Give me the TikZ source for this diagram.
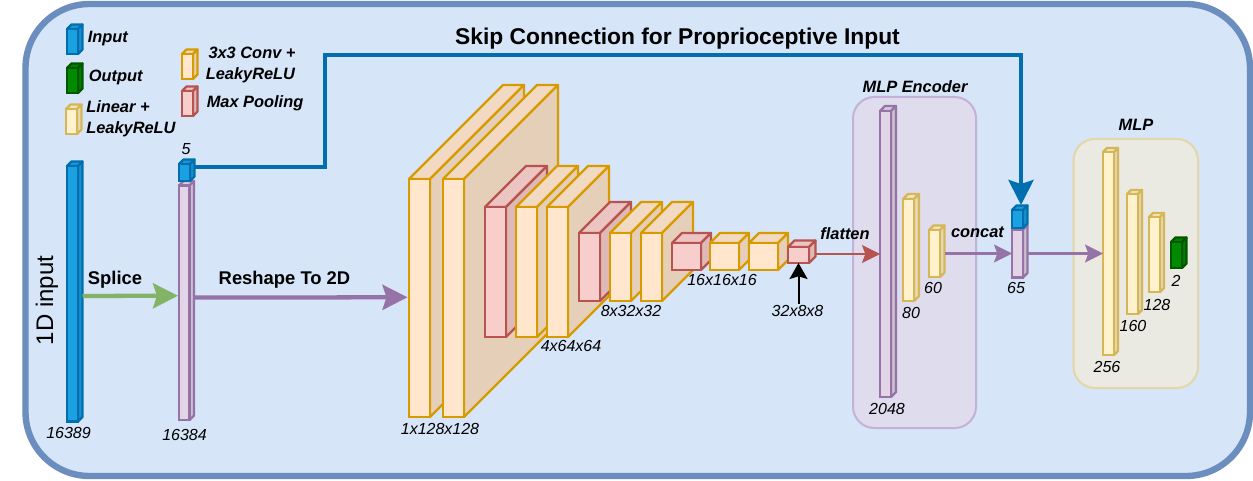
\documentclass[tikz,border=0pt]{standalone}
\usepackage{fontspec}
\setmainfont{Liberation Sans}
\usetikzlibrary{arrows.meta}

\definecolor{inputfill}{HTML}{1BA1E2}
\definecolor{inputline}{HTML}{006EAF}
\definecolor{outfill}{HTML}{008A00}
\definecolor{outline}{HTML}{005700}
\definecolor{linfill}{HTML}{FFF2CC}
\definecolor{linline}{HTML}{D6B656}
\definecolor{convfill}{HTML}{FFE6CC}
\definecolor{convline}{HTML}{D79B00}
\definecolor{poolfill}{HTML}{F8CECC}
\definecolor{poolline}{HTML}{B85450}
\definecolor{flatfill}{HTML}{E1D5E7}
\definecolor{flatline}{HTML}{9673A6}
\definecolor{greenline}{HTML}{82B366}
\definecolor{panelfill}{HTML}{D6E5F8}
\definecolor{panelline}{HTML}{6C8EBF}
\definecolor{encfill}{HTML}{DFDCEE}
\definecolor{encline}{HTML}{C3B1D8}
\definecolor{mlpfill}{HTML}{EAE9E2}
\definecolor{mlpline}{HTML}{E3D6A8}

\tikzset{
  dimlabel/.style={inner sep=0.75pt,font=\fontsize{12}{14}\selectfont\itshape},
  keylabel/.style={anchor=west,inner sep=0.75pt,align=left,font=\fontsize{12.3}{15.75}\selectfont\bfseries\itshape},
  steplabel/.style={inner sep=0.75pt,font=\fontsize{13.8}{16}\selectfont\bfseries},
  bigarrow/.style={line width=3.2pt,-{Stealth[length=18.75pt,width=18.75pt,inset=3pt]}},
  thinarrow/.style={line width=1.6pt,-{Stealth[length=13.5pt,width=13.5pt,inset=2.5pt]}}
}

% name, fill, line, x, y, front width, front height, depth
\newcommand{\layerbox}[8]{
  \draw [draw=#3,line width=1.7pt,line join=round,fill=#2!95!black] (#4,#5) -- (#4+#8,#5-#8) -- (#4+#6+#8,#5-#8) -- (#4+#6,#5) -- cycle ;
  \draw [draw=#3,line width=1.7pt,line join=round,fill=#2!90!black] (#4+#6,#5) -- (#4+#6+#8,#5-#8) -- (#4+#6+#8,#5+#7-#8) -- (#4+#6,#5+#7) -- cycle ;
  \draw (#4,#5) node (#1) [anchor=north west,inner sep=0pt,outer sep=0pt,draw=#3,fill=#2,line width=1.7pt,minimum width=#6*0.75pt,minimum height=#7*0.75pt] {} ;
}

\begin{document}
\begin{tikzpicture}[x=0.75pt,y=0.75pt,yscale=-1.,xscale=1.]
    \useasboundingbox (0,0) rectangle (1253,481);

    %Shape: Rounded Rect
    \draw [draw=panelline,line width=4.8pt,fill=panelfill,rounded corners=48pt] (25.5,4) rectangle (1250,476) ;
    %Shape: MLP Encoder panel
    \draw [draw=encline,line width=1.5pt,fill=encfill,rounded corners=16pt] (853,97) rectangle (976,428) ;
    %Shape: MLP panel
    \draw [draw=mlpline,line width=1.5pt,fill=mlpfill,rounded corners=16pt] (1073.5,139) rectangle (1198,388) ;

    %Shape: legend
    \layerbox{keyinput}{inputfill}{inputline}{67}{29}{11}{25}{4.5}
    \layerbox{keyoutput}{outfill}{outline}{67}{68}{11}{25}{4.5}
    \layerbox{keylinear}{linfill}{linline}{66}{109}{11}{25}{4.5}
    \layerbox{keyconv}{convfill}{convline}{182}{54}{11}{25}{4.5}
    \layerbox{keypool}{poolfill}{poolline}{182}{91}{11}{25}{4.5}

    %Shape: 1D columns
    \layerbox{inputbar}{inputfill}{inputline}{67}{166}{11}{255.5}{4.5}
    \layerbox{splicebar}{flatfill}{flatline}{179}{185.5}{10.5}{234.5}{4.5}
    \layerbox{propbar}{inputfill}{inputline}{179}{164}{11}{17}{4.5}

    %Shape: conv stack
    \layerbox{convA}{convfill}{convline}{409}{179}{21}{238}{94}
    \layerbox{convB}{convfill}{convline}{443}{179}{21}{238}{94}
    \layerbox{poolA}{poolfill}{poolline}{485}{207}{21}{130}{41}
    \layerbox{convC}{convfill}{convline}{516}{207}{21}{130}{41}
    \layerbox{convD}{convfill}{convline}{547}{207}{21}{130}{41}
    \layerbox{poolB}{poolfill}{poolline}{579}{233}{21}{68}{31}
    \layerbox{convE}{convfill}{convline}{610}{233}{21}{68}{31}
    \layerbox{convF}{convfill}{convline}{641}{233}{21}{68}{31}
    \layerbox{poolC}{poolfill}{poolline}{672}{243}{29}{27}{10}
    \layerbox{convG}{convfill}{convline}{710}{243}{29}{27}{10}
    \layerbox{convH}{convfill}{convline}{749}{243}{29}{27}{10}
    \layerbox{poolD}{poolfill}{poolline}{788}{247}{21}{16}{6.5}

    %Shape: MLP Encoder columns
    \layerbox{encA}{flatfill}{flatline}{880}{111}{11}{286}{5}
    \layerbox{encB}{linfill}{linline}{903}{199}{11}{102}{5}
    \layerbox{encC}{linfill}{linline}{929}{230}{11}{47}{4.5}

    %Shape: concat column
    \layerbox{fuseflat}{flatfill}{flatline}{1012}{229.5}{11}{48}{4.5}
    \layerbox{fuseprop}{inputfill}{inputline}{1012}{210}{11}{18}{4.5}

    %Shape: MLP columns
    \layerbox{mlpA}{linfill}{linline}{1103}{152}{11}{203}{4}
    \layerbox{mlpB}{linfill}{linline}{1127}{194}{11}{120}{4}
    \layerbox{mlpC}{linfill}{linline}{1149}{217}{11}{75}{4}
    \layerbox{mlpD}{outfill}{outline}{1171}{242}{11}{26}{4.5}

    % Text Node
    \draw (86.5,39) node (txtinput) [keylabel] {Input};
    % Text Node
    \draw (87.5,77) node (txtoutput) [keylabel] {Output};
    % Text Node
    \draw (85,118.5) node (txtlinear) [keylabel] {Linear +\\LeakyReLU};
    % Text Node
    \draw (204.5,64.5) node (txtconv) [keylabel] {\,3x3 Conv +\\LeakyReLU};
    % Text Node
    \draw (205.5,103) node (txtpool) [keylabel] {Max Pooling};
    % Text Node
    \draw (677.5,39) node (txtskip) [inner sep=0.75pt,font=\fontsize{17.1}{19}\selectfont\bfseries] {Skip Connection for Proprioceptive Input};
    % Text Node
    \draw (47,300.5) node (txtoned) [inner sep=0.75pt,rotate=90,font=\fontsize{18}{20}\selectfont] {1D input};
    % Text Node
    \draw (115,280) node (txtsplice) [steplabel] {Splice};
    % Text Node
    \draw (284.5,280) node (txtreshape) [steplabel] {Reshape To 2D};
    % Text Node
    \draw (845,234) node (txtflatten) [keylabel,anchor=center] {flatten};
    % Text Node
    \draw (977.5,232.5) node (txtconcat) [keylabel,anchor=center] {concat};
    % Text Node
    \draw (915,87) node (txtenc) [keylabel,anchor=center] {MLP Encoder};
    % Text Node
    \draw (1136,125) node (txtmlp) [keylabel,anchor=center] {MLP};

    % Text Node
    \draw (68.5,433) node (dimA) [dimlabel] {16389};
    \draw (184.5,435) node (dimB) [dimlabel] {16384};
    \draw (186,149) node (dimC) [dimlabel] {5};
    \draw (440,429) node (dimD) [dimlabel] {1x128x128};
    \draw (571,346) node (dimE) [dimlabel] {4x64x64};
    \draw (631,311) node (dimF) [dimlabel] {8x32x32};
    \draw (722,280) node (dimG) [dimlabel] {16x16x16};
    \draw (797.5,311) node (dimH) [dimlabel] {32x8x8};
    \draw (887,409) node (dimI) [dimlabel] {2048};
    \draw (911,313) node (dimJ) [dimlabel] {80};
    \draw (933,288) node (dimK) [dimlabel] {60};
    \draw (1016,288) node (dimL) [dimlabel] {65};
    \draw (1107,367) node (dimM) [dimlabel] {256};
    \draw (1133,326) node (dimN) [dimlabel] {160};
    \draw (1157,305) node (dimO) [dimlabel] {128};
    \draw (1176,281) node (dimP) [dimlabel] {2};

    %Straight Lines
    \coordinate (skipturn) at (325,55);
    \draw [bigarrow,draw=inputline] ([shift={(4.5,-5.5)}]propbar.east) -| (skipturn) -| ([shift={(3.5,-5)}]fuseprop.north) ;
    %Straight Lines
    \draw [bigarrow,draw=greenline] ([shift={(4.5,2.2)}]inputbar.east) -- ([shift={(-1,-7)}]splicebar.west) ;
    %Straight Lines
    \draw [bigarrow,draw=flatline] ([shift={(4.5,-5.2)}]splicebar.east) -- ([shift={(-1.5,-0.7)}]convA.west) ;
    %Straight Lines
    \draw [thinarrow,draw=poolline] ([shift={(6.5,-1)}]poolD.east) -- (encA.west) ;
    %Straight Lines
    \draw [thinarrow,draw=flatline] ([xshift=3.4pt]encC.east) -- (fuseflat.west) ;
    %Straight Lines
    \draw [thinarrow,draw=flatline] ([xshift=3.4pt]fuseflat.east) -- (mlpA.west) ;
    %Straight Lines
    \draw [line width=1.5pt,-{Stealth[length=12pt,width=13.5pt,inset=2pt]}] (dimH.north -| poolD.south) -- (poolD.south) ;
\end{tikzpicture}
\end{document}
